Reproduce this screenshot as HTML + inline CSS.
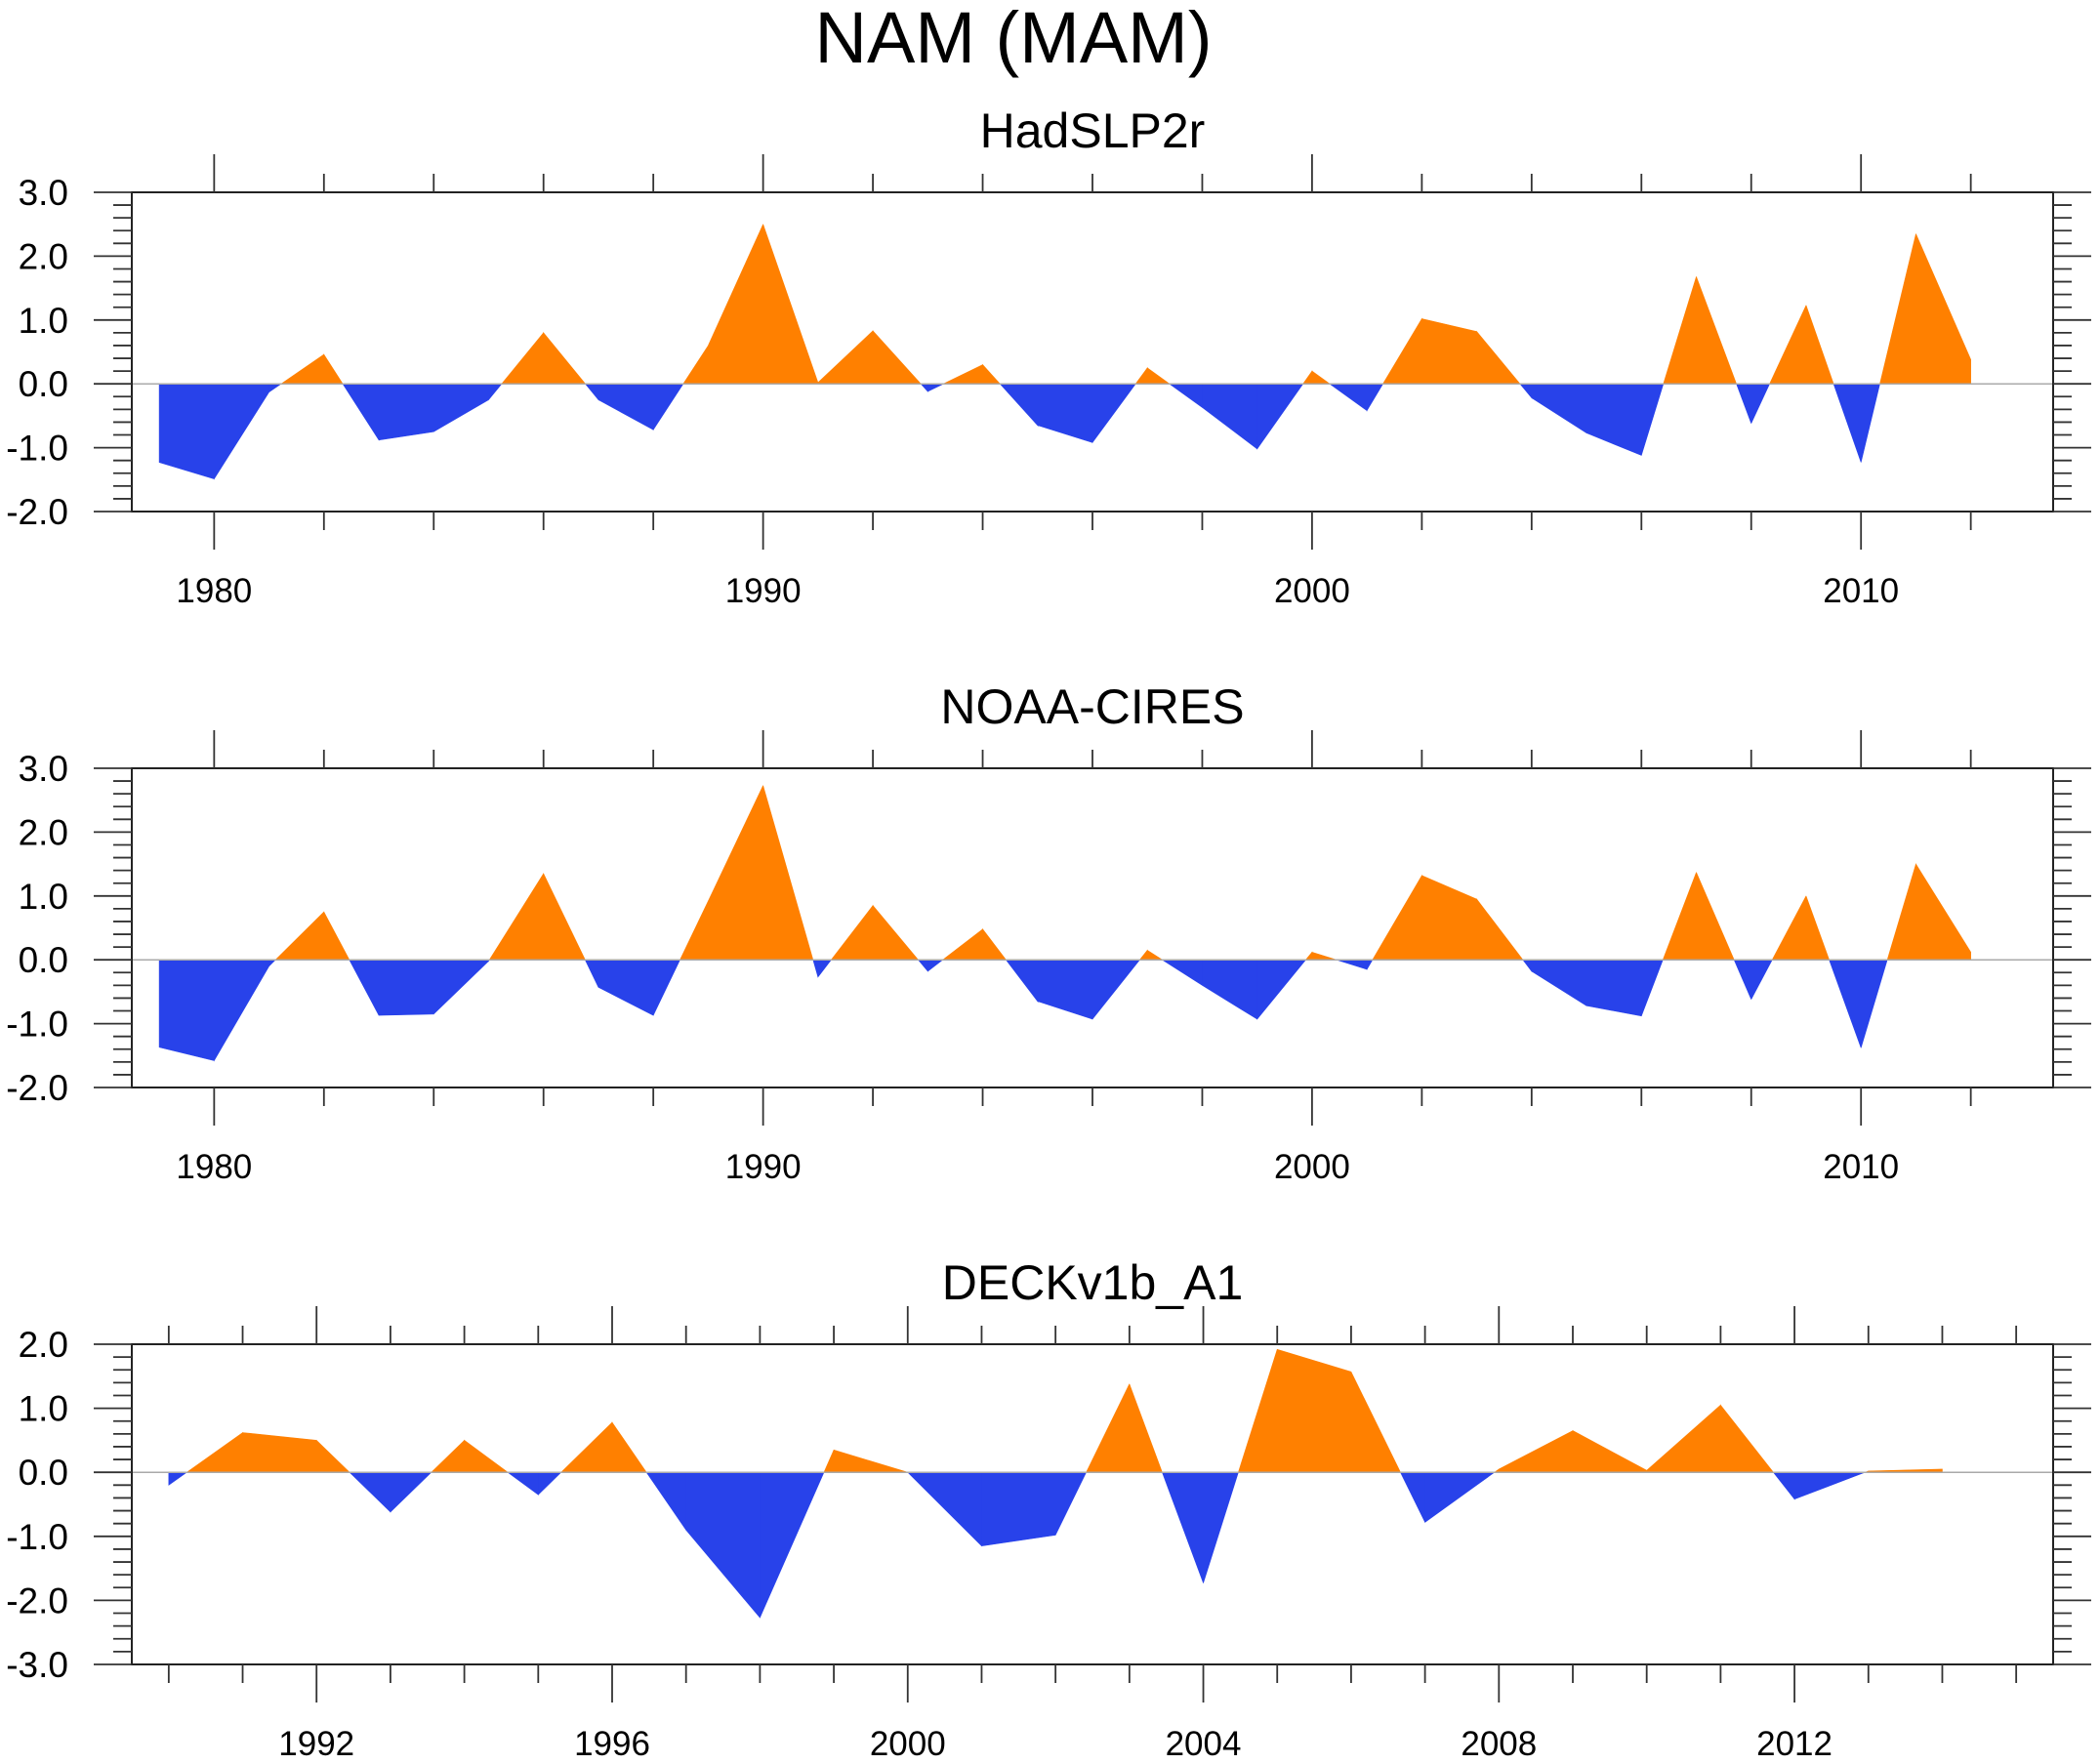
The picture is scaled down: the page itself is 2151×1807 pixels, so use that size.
<!DOCTYPE html>
<html><head><meta charset="utf-8"><style>
html,body{margin:0;padding:0;background:#fff;}
svg{display:block;font-family:"Liberation Sans",sans-serif;}
</style></head><body>
<svg id="chart" width="2151" height="1807" viewBox="0 0 2151 1807" xmlns="http://www.w3.org/2000/svg">
<text x="1038" y="64" font-size="74" text-anchor="middle">NAM (MAM)</text>
</svg>
<script>
const hadYears = [1979,1980,1981,1982,1983,1984,1985,1986,1987,1988,1989,1990,1991,1992,1993,1994,1995,1996,1997,1998,1999,2000,2001,2002,2003,2004,2005,2006,2007,2008,2009,2010,2011,2012];
const hadValues = [-1.23,-1.49,-0.13,0.46,-0.88,-0.75,-0.25,0.8,-0.25,-0.72,0.6,2.5,0.02,0.83,-0.12,0.3,-0.65,-0.92,0.25,-0.37,-1.02,0.2,-0.42,1.02,0.82,-0.22,-0.77,-1.12,1.68,-0.62,1.23,-1.23,2.35,0.38];
const noaaYears = hadYears;
const noaaValues = [-1.37,-1.58,-0.1,0.75,-0.87,-0.85,-0.02,1.35,-0.43,-0.87,0.92,2.73,-0.27,0.85,-0.18,0.48,-0.65,-0.93,0.15,-0.4,-0.93,0.12,-0.15,1.32,0.95,-0.18,-0.72,-0.88,1.37,-0.62,1.0,-1.38,1.5,0.12];
const deckYears = [1990,1991,1992,1993,1994,1995,1996,1997,1998,1999,2000,2001,2002,2003,2004,2005,2006,2007,2008,2009,2010,2011,2012,2013,2014];
const deckValues = [-0.2,0.62,0.5,-0.62,0.5,-0.35,0.78,-0.9,-2.27,0.35,0.0,-1.15,-0.98,1.38,-1.73,1.92,1.57,-0.78,0.05,0.65,0.03,1.05,-0.42,0.02,0.05];
const yTicks1 = ["3.0","2.0","1.0","0.0","-1.0","-2.0"];
const yTicks3 = ["2.0","1.0","0.0","-1.0","-2.0","-3.0"];
const xLabels1 = [1980,1990,2000,2010];
const xLabels3 = [1992,1996,2000,2004,2008,2012];

const svg = document.getElementById('chart');
const NS = 'http://www.w3.org/2000/svg';
function mk(tag, attrs, parent){const e=document.createElementNS(NS,tag);for(const k in attrs)e.setAttribute(k,attrs[k]);(parent||svg).appendChild(e);return e;}

function panel(cfg){
  const g = mk('g',{});
  
  
  const L=cfg.left,R=cfg.right,T=cfg.top,B=cfg.bottom;
  const xs = v => L + (v - cfg.x0)/(cfg.x1 - cfg.x0)*(R-L);
  const ys = v => T + (cfg.y1 - v)/(cfg.y1 - cfg.y0)*(B-T);
  const st = mk('text',{x:(L+R)/2,y:T-46,'font-size':50,'text-anchor':'middle'},g);
  st.textContent = cfg.title;
  
  
  const yr = cfg.years, vals = cfg.values;
  const pos=[], neg=[];
  for(let i=0;i<yr.length-1;i++){
    const a=vals[i],b=vals[i+1],xa=yr[i],xb=yr[i+1];
    if((a>=0&&b>=0)||(a<=0&&b<=0)){ (a+b>=0?pos:neg).push([[xa,0],[xa,a],[xb,b],[xb,0]]); }
    else { const xc = xa + (0-a)/(b-a)*(xb-xa);
      (a>0?pos:neg).push([[xa,0],[xa,a],[xc,0]]);
      (b>0?pos:neg).push([[xc,0],[xb,b],[xb,0]]); }
  }
  const toPath = polys => polys.map(p=>'M'+p.map(q=>xs(q[0]).toFixed(2)+','+ys(q[1]).toFixed(2)).join('L')+'Z').join('');
  const pp = mk('path',{d:toPath(pos),fill:'#FF8000',stroke:'#FF8000','stroke-width':0.6},g);
  
  
  const np = mk('path',{d:toPath(neg),fill:'#2842EA',stroke:'#2842EA','stroke-width':0.6},g);
  
  
  const zl = mk('line',{x1:L,x2:R,y1:ys(0),y2:ys(0),stroke:'#aaa','stroke-width':1.5},g);
  
  
  const fr = mk('rect',{x:L,y:T,width:R-L,height:B-T,fill:'none',stroke:'#222','stroke-width':2},g);
  
  
  const ticks = mk('g',{stroke:'#333','stroke-width':1.8},g);
  
  
  for(let k=0;k<=25;k++){
    const v = cfg.y0 + k*0.2, y=ys(v), major = k%5===0;
    const len = major?39:19;
    mk('line',{x1:L-len,x2:L,y1:y,y2:y},ticks);
    mk('line',{x1:R,x2:R+len,y1:y,y2:y},ticks);
  }
  cfg.yLabels.forEach((s,i)=>{
    const v = cfg.y1 - i; const t = mk('text',{x:70,y:ys(v)+13,'font-size':37,'text-anchor':'end'},g);
    t.textContent = s;
    
    
  });
  for(let yv=Math.ceil(cfg.x0); yv<=cfg.x1; yv++){
    if(yv % cfg.minorStep !==0) continue;
    const major = yv % cfg.majorStep === 0; const len = major?39:19; const x = xs(yv);
    mk('line',{x1:x,x2:x,y1:T-len,y2:T},ticks);
    mk('line',{x1:x,x2:x,y1:B,y2:B+len},ticks);
  }
  cfg.xLabels.forEach(v=>{
    const t = mk('text',{x:xs(v),y:B+93,'font-size':35,'text-anchor':'middle'},g);
    t.textContent = v;
    
    
  });
}
panel({name:'panel-hadslp2r',title:'HadSLP2r',left:135,right:2103,top:197,bottom:524,x0:1978.5,x1:2013.5,y0:-2,y1:3,years:hadYears,values:hadValues,yLabels:yTicks1,xLabels:xLabels1,minorStep:2,majorStep:10});
panel({name:'panel-noaa-cires',title:'NOAA-CIRES',left:135,right:2103,top:787,bottom:1114,x0:1978.5,x1:2013.5,y0:-2,y1:3,years:noaaYears,values:noaaValues,yLabels:yTicks1,xLabels:xLabels1,minorStep:2,majorStep:10});
panel({name:'panel-deckv1b-a1',title:'DECKv1b_A1',left:135,right:2103,top:1377,bottom:1705,x0:1989.5,x1:2015.5,y0:-3,y1:2,years:deckYears,values:deckValues,yLabels:yTicks3,xLabels:xLabels3,minorStep:1,majorStep:4});
</script>
</body></html>
